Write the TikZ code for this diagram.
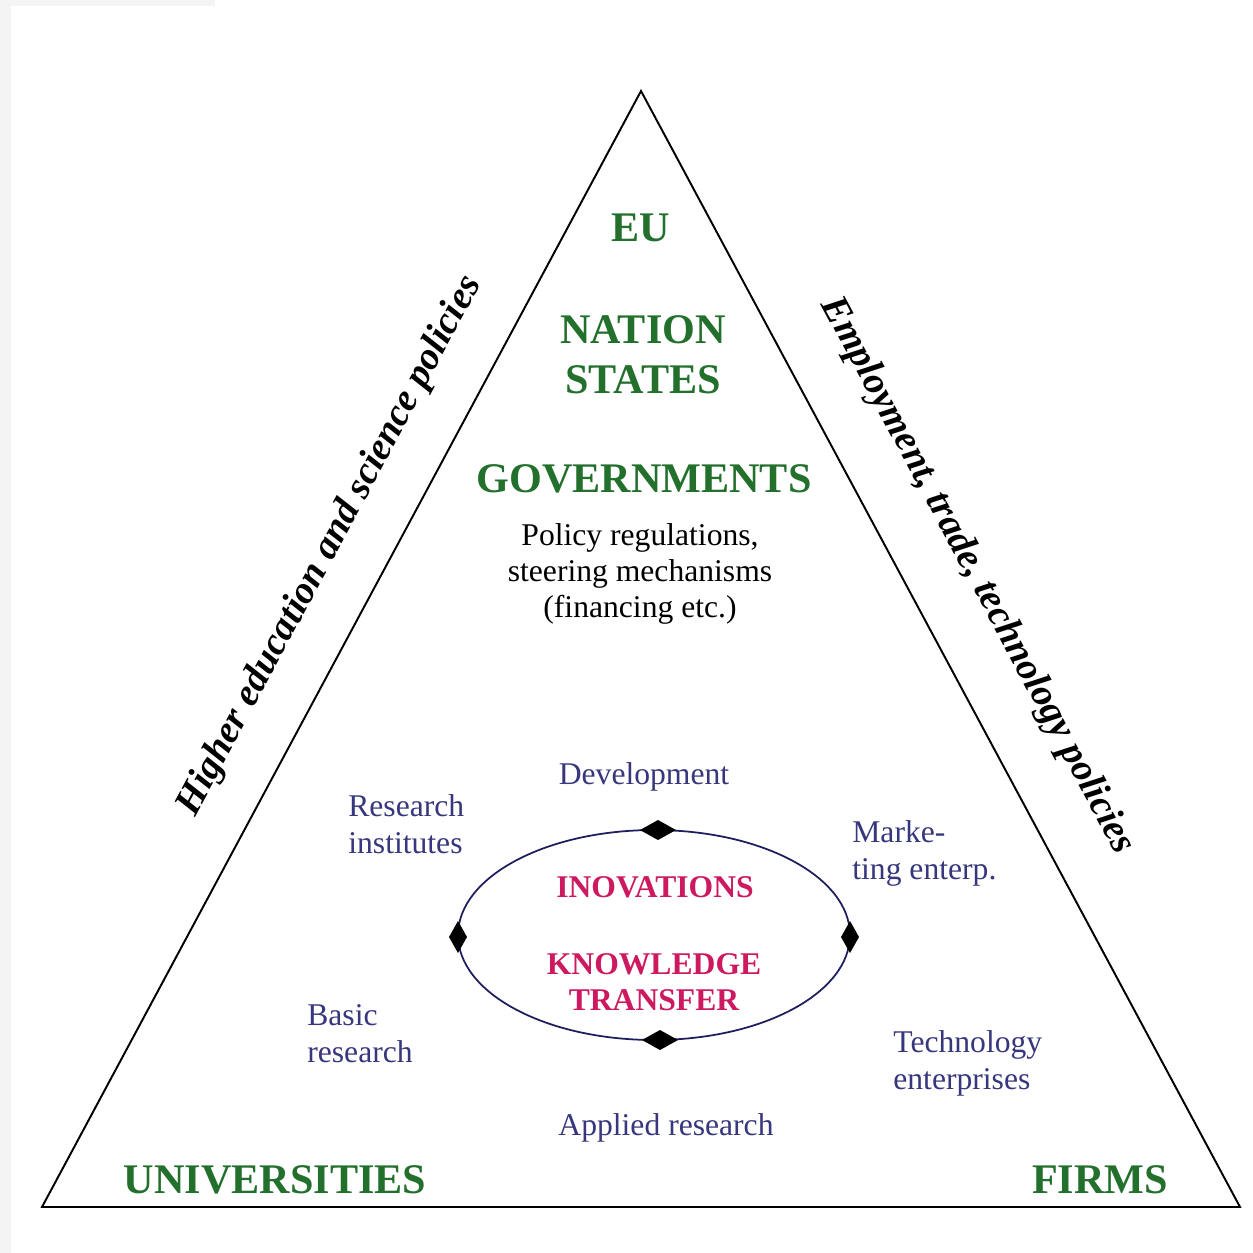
\documentclass[tikz,border=0pt]{standalone}
\usepackage{fontspec}
\setmainfont{Liberation Serif}
\usetikzlibrary{shapes.geometric}
\definecolor{tgreen}{RGB}{35,112,45}
\definecolor{tnavy}{RGB}{55,55,125}
\definecolor{tcrimson}{RGB}{205,25,95}
\definecolor{tellipse}{RGB}{30,30,95}
\definecolor{tstrip}{RGB}{244,244,244}
\tikzset{
  greenlbl/.style={text=tgreen, font={\fontsize{24}{28.5}\selectfont\bfseries}, align=center, inner sep=0pt},
  redlbl/.style={text=tcrimson, font={\fontsize{18}{20.5}\selectfont\bfseries}, align=center, inner sep=0pt},
  bluelbl/.style={text=tnavy, font={\fontsize{18}{21}\selectfont}, inner sep=0pt},
  blacklbl/.style={text=black, font={\fontsize{18}{20.5}\selectfont}, align=center, inner sep=0pt},
  sidelbl/.style={text=black, font={\fontsize{22}{24}\selectfont\bfseries\itshape}, inner sep=0pt},
  tri/.style={draw=black, line width=1.1pt, line join=miter},
  marker/.style={fill=black},
}
\begin{document}
\begin{tikzpicture}[x=0.02cm, y=-0.02cm]
\useasboundingbox (0,0) rectangle (1253,1253);
\fill[white] (0,0) rectangle (1253,1253);
\fill[tstrip] (0,0) rectangle (11,1253);
\fill[tstrip] (0,0) rectangle (215,6);
% triangle
\coordinate (A) at (641,91);
\coordinate (B) at (42,1207);
\coordinate (C) at (1240,1207);
\draw[tri] (A) -- (B) -- (C) -- cycle;
% ellipse
\coordinate (E) at (654,935);
\draw[tellipse, line width=1pt] (E) ellipse [x radius=3.92cm, y radius=2.1cm];
\coordinate (mT) at (658,830);
\coordinate (mB) at (660,1040);
\coordinate (mL) at (458,937);
\coordinate (mR) at (850,937);
\fill[marker] (mT) ++(-18,0) -- ++(18,-10) -- ++(18,10) -- ++(-18,10) -- cycle;
\fill[marker] (mB) ++(-18,0) -- ++(18,-10) -- ++(18,10) -- ++(-18,10) -- cycle;
\fill[marker] (mL) ++(-9,0) -- ++(9,-16) -- ++(9,16) -- ++(-9,16) -- cycle;
\fill[marker] (mR) ++(-9,0) -- ++(9,-16) -- ++(9,16) -- ++(-9,16) -- cycle;
% top labels
\node[greenlbl] (eu) at (641,228) {EU};
\node[greenlbl] (nation) at (643,355) {NATION\\STATES};
\node[greenlbl] (gov) at (644,479) {GOVERNMENTS};
\node[blacklbl] (policy) at (640,574) {Policy regulations,\\steering mechanisms\\(financing etc.)};
% side labels
\node[sidelbl, rotate=61.8] (left) at (330,546) {Higher education and science policies};
\node[sidelbl, rotate=-61.8] (right) at (977,576) {Employment, trade, technology policies};
% blue labels
\node[bluelbl] (dev) at (644,777) {Development};
\node[bluelbl, anchor=west, align=left] (resinst) at (348,824) {Research\\institutes};
\node[bluelbl, anchor=west, align=left] (market) at (852,853) {Marke-\\ting enterp.};
\node[bluelbl, anchor=west, align=left] (basic) at (307,1034) {Basic\\research};
\node[bluelbl, anchor=west, align=left] (tech) at (893,1063) {Technology\\enterprises};
\node[bluelbl] (applied) at (666,1128) {Applied research};
% red labels
\node[redlbl] (inov) at (655,887) {INOVATIONS};
\node[redlbl] (know) at (654,982) {KNOWLEDGE\\TRANSFER};
% bottom labels
\node[greenlbl] (univ) at (275,1180) {UNIVERSITIES};
\node[greenlbl] (firms) at (1100,1180) {FIRMS};
\end{tikzpicture}
\end{document}
